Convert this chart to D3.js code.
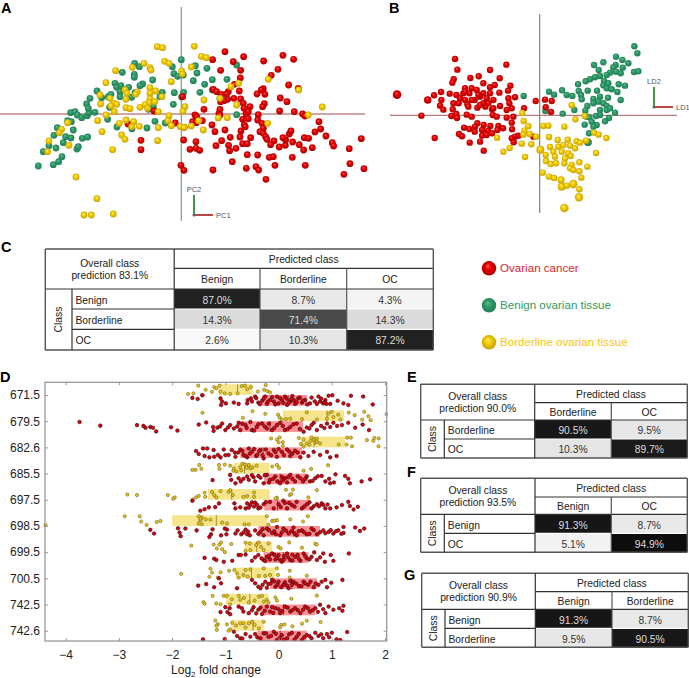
<!DOCTYPE html>
<html>
<head>
<meta charset="utf-8">
<script src="https://cdn.jsdelivr.net/npm/d3@7"></script>
<style>
  body { margin: 0; background: #fff; }
  text { font-family: "Liberation Sans", Arial, sans-serif; }
</style>
</head>
<body>
<script>
// PCA scores [PC1, PC2], panel A
const pcaBenign = [[-42.9,-15.6],[-38.4,-15.2],[-36.8,-14.3],[-35.8,-12.8],[-41.4,-11.3],[-37.6,-10.2],[-31.3,-10.5],[-30.9,-9.8],[-35.4,-8.6],[-34.7,-6.8],[-33.1,-7.2],[-38.2,-6.4],[-39.7,-9.5],[-29.7,-7.3],[-28.1,-6.9],[-32.4,-4.8],[-37.2,-4.1],[-34.1,-2],[-33,-2.3],[-33.2,.4],[-31.9,.7],[-31.2,-.3],[-29.9,-1.1],[-28.2,-.5],[-25.9,.5],[-27.7,.4],[-28.4,3],[-27.4,4.7],[-27.9,1.7],[-25.3,6.9],[-23.9,4.9],[-21.9,5.2],[-21.1,5.9],[-19.9,9.2],[-19.4,8],[-18.1,8.5],[-15.8,8],[-18.4,6.7],[-18.4,5.2],[-14.9,5],[-13.9,6.4],[-11.6,9],[-12.4,8.5],[-14.1,11.9],[-14.1,11],[-17.7,12.5],[-14,15.2],[-12.6,14.2],[-8.6,10.2],[-5.7,6.5],[-6.4,5.2],[-2.1,6.4],[.7,6.5],[-2.4,2.9],[.1,5.1],[-21.5,2],[-9.9,1.4],[-8.4,2.2],[-22.1,-1.6],[-19.3,-3.9],[-14.8,-4.4],[-10.3,-4.2],[-7.9,-2.2],[-4.8,-2.7],[0,16.3],[-2.7,14.2],[-2.2,12.1],[-1.1,11.3],[3.6,10],[4.7,12.3],[7.7,13.7],[4.2,14.5],[7,8.9],[9.3,10.3],[13.7,10.4],[5.6,6.5],[9.3,7.2],[16.6,14.7],[11.6,4.7],[16.6,-.2],[.6,11.7]];
const pcaCancer = [[13.1,18.7],[18.7,17.2],[9.4,16.3],[15.6,15.7],[24.7,15.9],[30.5,17.6],[33.7,16.4],[11.8,13.1],[17.8,13.1],[29,13.4],[27,11.6],[17.7,10.8],[9.6,7.4],[15.9,8.9],[32.2,8.7],[35.1,7.7],[24.6,7.6],[24,7.2],[22.7,6],[25.1,5.9],[17.4,6.9],[14.1,6.7],[13.6,6],[10.6,6.7],[12.1,5.9],[13.9,4.4],[12.8,4],[11.8,3.7],[15.8,4.7],[17.8,4.5],[18.6,3.2],[18.8,1.7],[20.6,2.2],[29.7,4.8],[31.7,3.7],[24.9,3.1],[24.4,2.2],[6.8,1.4],[11.6,1.4],[11.3,.2],[11.6,-.3],[19.4,.2],[20.1,.7],[19.6,-1],[18.4,-1.6],[20.1,-1.4],[29.5,.9],[33.9,.7],[36.4,0],[37.1,-.6],[23.1,-.2],[22.9,-1.8],[41.3,-2.3],[41.8,-4.5],[40.1,-5.4],[43.4,-6.6],[54,-7.4],[45.3,-8.6],[45.7,-9.6],[50.4,-10.4],[50.6,-14.9],[54.8,-16.4],[48.8,-18.1],[4.1,-.3],[4.6,-.8],[3.4,-2.3],[6.3,-2],[4.5,-2.6],[-1.8,-2.7],[.9,-4],[9.2,-3.3],[18.9,-3.3],[19.2,-3.8],[24.2,-2.8],[24.6,-4.3],[23.6,-5.3],[10.1,-5.3],[13.1,-4.8],[17.9,-5.1],[20.8,-7.1],[24.6,-5.8],[25.3,-6.8],[25.7,-7.6],[14.7,-7],[17.6,-6.9],[12.1,-8],[10.4,-9.5],[.7,-7.8],[4.4,-8.3],[2.6,-10.6],[4.4,-10.3],[5.5,-10.9],[-12.1,-7.9],[-12.1,-10.7],[14.2,-9.4],[14.5,-11],[16.4,-10.3],[18.4,-8.9],[19.8,-8.9],[27.8,-8.1],[26.8,-9.2],[29.4,-9.9],[31.2,-9.4],[31.3,-7.8],[30.5,-7.1],[32.4,-6],[32.9,-5.1],[33.4,-8.4],[35.4,-9.2],[36.9,-7.1],[38.2,-7.3],[36.7,-10.8],[39.3,-10.1],[19.8,-12.2],[22.9,-12.3],[26.4,-13],[27.6,-12.8],[33.3,-13],[15.3,-14.3],[19.5,-16.3],[22.4,-15.8],[23.2,-16.8],[28.1,-15.4],[37.2,-15.4],[25.4,-19.6],[9.5,-16.8],[-.1,-15.4],[.8,-16.9],[-8.2,.9],[-16,-3],[.4,5.2]];
const pcaBorderline = [[-7.2,20.2],[-5.6,19.9],[3.9,20.3],[6,17.3],[7.5,16.9],[-5,15.8],[-3.7,15.2],[-14.7,14],[-11.2,15.2],[-9.4,13.9],[-9.1,13.2],[-19.7,13],[-22.6,9.4],[3,14.1],[.1,12.9],[.3,12],[-3,9.7],[-9.4,7.9],[-7.7,6.9],[-9.4,6.2],[-16.9,7.2],[-16.3,6.2],[-13.2,6.6],[-13.7,5.9],[-16.6,4.4],[-24.4,5.7],[-21.4,4.7],[-9.4,4.5],[-9.7,3.4],[-8,3.7],[-5.8,5.2],[-20.2,3.2],[-19.4,2.9],[-24.2,3],[-21.1,2.4],[-16.6,1.9],[-15.4,1.6],[-12.4,2],[-10.9,2.8],[-10.1,1.7],[-20.1,.7],[-6.9,.7],[1.1,2.2],[.5,.8],[6.8,4.2],[11.6,4.7],[16.6,2.7],[14.9,8.2],[17.2,9.2],[26.1,10.4],[35.2,7.2],[42.3,2.1],[38.1,-.3],[11.1,-1.2],[13.8,-1.1],[25.9,-2.8],[-3.7,-.5],[-4,-2],[-22.6,-.3],[-25.1,-2],[-18.6,-2.8],[-16.6,-1.8],[-14.3,-2.3],[-12.6,-3.7],[-14.9,-3.8],[-6.9,-4.1],[-3,-3.5],[-.3,-3.8],[.9,-4],[3,-3.6],[6.6,-4.8],[5.2,-2],[-23.8,-5.3],[-17.9,-6.3],[-16.9,-7.6],[-20.6,-10.7],[-7.1,-8],[-35.9,-4.6],[-36.6,-5.6],[-34.1,-2.6],[-39.7,-8.1],[-40.1,-11.3],[-33.7,-9.4],[-31.6,-18.9],[-25.3,-25.4],[-29.2,-30.3],[-27,-30.3],[-20.4,-30]];

// LDA scores [LD1, LD2, depth], panel B
const ldaCancer = [[-25.4,16.9],[-10,15.2],[-24.7,13.7],[-14.9,13.6],[-18.3,11.7],[-20.8,11.2],[-12,11.1],[-25.8,10.8],[-26.2,9.8],[-16.9,9.6],[-13.5,9.1],[-8.8,8.9],[-22.4,8.1],[-20.4,8.1],[-14.9,8.4],[-9.5,7.4],[-29.6,7],[-31.7,6],[-42.8,6.2,1],[-33.6,4.6,.5],[-27,6.5],[-25,6.1],[-22.9,6.6],[-21.1,6.6],[-18.9,7.6],[-16.9,6.6],[-14.9,6.6],[-12.1,6.8],[-29.5,4.6],[-23.9,5.1],[-25.9,3.6],[-24.3,3.6],[-21.7,3.3],[-19.5,4.6],[-17.9,5.6],[-15.9,5.1],[-13.9,4.6],[-9.4,5.1],[-7.4,5.4],[-9.1,3.6],[-29.9,2.9],[-28.9,1.7],[-26.1,1.8],[-21.4,2.6],[-18.7,2.3],[-16.3,2.6],[-14.3,1.8],[-11.9,2.8],[-9.9,1.6],[-8.4,2.1],[-4.7,2.1],[-1.2,4.3],[1.6,4.7],[3.6,4.3],[1.8,2.4],[3.4,1],[-35.5,-.1],[-26.5,-.2],[-25,.4],[-24.8,-.8],[-21.9,.2],[-20.4,-.4],[-14.1,.1],[-12.9,-.4],[-9.9,-.7],[-7.9,-.4],[-18.7,-2.4],[-19.4,-3.4],[-16.8,-2.9],[-14.8,-3.2],[-12.4,-3.2],[-12.7,-4.4],[-11,-3.9],[-22.7,-3.7],[-21.1,-4.1],[-19.5,-4.9],[-17.3,-4.4],[-15.5,-4.6],[-8.4,-2.2],[-8.3,-4.2],[-31.5,-6.8],[-24.2,-5.6],[-23.3,-6.3],[-17.3,-6.1],[-15.9,-5.9],[-21,-8.2],[-17.9,-7.9],[-14.3,-5.4],[-6.4,-6.1],[-7.4,-6.4],[-8.4,-6.9],[-7.8,-8.1],[-16.8,-10.6],[-1.9,-6.4],[-22.4,7.1],[-18.4,6.1],[-20.4,4.6],[-16.9,3.6],[-13.9,2.1],[-17.9,3.1],[-22.4,4.6],[-15.4,3.6]];
const ldaBenign = [[28.4,20.7],[29.3,18.6],[22.9,17.6],[24.8,16.6],[26.6,15.6],[19.1,15.9],[16.3,15.1],[17.7,13.6],[28.3,13],[29.6,13.2],[24.9,14.3],[22.8,15.1],[22.1,14.4],[21.1,12.8],[22.9,13.1],[24.3,12.6],[20.1,12.1],[18.1,11.8],[16.6,11.4],[15.1,10.8],[13.8,10.2],[11.5,9.3],[19.3,10.3],[20.6,9.6],[25.6,8.9],[23.7,9.3],[19.1,9],[20.1,8.1],[21.6,7.8],[23.3,7],[17.2,7.4],[14.4,7.4],[11.7,7.3],[6.7,7.5],[2.8,7.1],[4.3,6.2],[8.1,6.1],[9.8,5.8],[12.4,6.1],[12.6,4.8],[16.1,4.9],[18.1,5.6],[20.5,5.3],[24.3,4.6],[16.1,3.6],[17.6,4.1],[19.1,3.6],[20.1,2.8],[14.3,2.8],[13.7,1.4],[10.4,1.6],[-4.8,5.8],[1.7,1.3],[6.9,.5],[18.1,1.6],[20.1,1.6],[22.6,.8],[21.1,2.1],[14.1,-.4],[14.9,-.6],[20.8,-.8],[19.6,-1.8],[13.5,-2.8],[15.6,-1.9],[17.1,-2.9],[16.1,-3.4],[14.8,-5.4],[14.5,-8.1,.6],[18.1,.1],[16.9,-.2]];
const ldaBorderline = [[9.6,3],[-5.2,.7],[-4.8,-1.7],[-3.4,-3.3],[1.1,-3.2],[2.6,-3.1],[7.4,-3.4],[10.7,-1.2],[13.5,-.2],[-4.6,-4.6],[-4.9,-5.8],[-3,-5.6],[-1.1,-6.4],[-12.8,-6.7],[-5.4,-8.5],[-2.5,-8.7],[-9,-9.8],[-10.9,-10.9],[-4.4,-12.5],[.2,-10.3,.7],[2.8,-6.5],[3.1,-9.5],[5.4,-7.4],[8.4,-7.3],[11.1,-7.8],[12.1,-8.2],[13.9,-7.6],[16.3,-5.2],[17.7,-5.8],[20,-6.8],[16.9,-11.3],[5.6,-9.4],[7.1,-8.9],[9.1,-9.1],[10.6,-9.9],[4.1,-10.9],[6.6,-10.9],[8.6,-11.4],[9.3,-12.2],[1.8,-11.9],[4.6,-12.4],[7.6,-12.9],[1.9,-13.7],[3.3,-14.6],[4.9,-14.4],[7.4,-14.4],[9.6,-14.9],[11.9,-14.1],[9.1,-15.9],[10.1,-16.4],[11.9,-16.8],[14.3,-15.4],[.9,-17.2],[2.8,-18.4],[4.3,-18.8],[12.5,-18.7],[6.4,-19.4,.4],[10.1,-20.6,.9],[6.6,-21.4,.7],[8.1,-21.1],[11.9,-22.2],[11.8,-24.6,.9],[7.4,-27.8,1]];

const legendLabels = ['Ovarian cancer', 'Benign ovarian tissue', 'Borderline ovarian tissue'];

// confusion matrices
const classesC = ['Benign', 'Borderline', 'OC'];
const valuesC = [[87.0, 8.7, 4.3], [14.3, 71.4, 14.3], [2.6, 10.3, 87.2]];
const classesE = ['Borderline', 'OC'];
const valuesE = [[90.5, 9.5], [10.3, 89.7]];
const classesF = ['Benign', 'OC'];
const valuesF = [[91.3, 8.7], [5.1, 94.9]];
const classesG = ['Benign', 'Borderline'];
const valuesG = [[91.3, 8.7], [9.5, 90.5]];

// panel D: peptide masses, box [low, median, high] per group
const peptides = ['671.5', '679.5', '682.6', '685.5', '697.5', '698.5', '699.5', '700.5', '742.5', '742.6'];
const foldTicks = [-4, -3, -2, -1, 0, 1, 2];
const borderlineBoxes = [[-1.13,-.77,-.49],[.08,.91,1.23],[.42,.67,1.25],[-.84,-.64,-.17],[-1.33,-.88,-.17],[-2,-1.17,-.22],[-.64,-.41,-.12],[-.8,-.51,-.06],[-.99,-.54,-.19],[-.89,-.48,-.28]];
const cancerBoxes = [[-.31,.18,.54],[-.77,-.16,.46],[-.72,-.29,.44],[-.27,.03,.56],[-.27,-.02,.59],[-.38,.28,.78],[-.28,.09,.56],[-.16,.25,.72],[-.34,.09,.69],[-.4,.03,.53]];

// per peptide: [log2 fold change, jitter within the row]
const borderlineFold = [
  [[-1.51,-.36],[-1.7,-.04],[-1.6,-.06],[-1.44,0],[-1.37,-.2],[-1.25,-.12],[-1.21,-.3],[-1.11,-.36],[-1.17,-.26],[-1.09,-.13],[-1.01,-.06],[-.91,-.04],[-.77,-.06],[-.69,-.34],[-.63,-.36],[-.59,-.22],[-.52,-.3],[-.39,-.13],[-.27,-.2],[-.24,-.38],[-.21,-.15],[-.16,-.1]],
  [[-1.43,-.32],[-.67,-.13],[-.49,-.38],[-.25,-.28],[-.01,-.25],[.02,-.14],[.06,-.06],[.14,-.08],[.22,-.1],[.44,-.08],[.53,-.34],[.72,-.06],[.91,-.1],[.94,-.29],[1,-.36],[1.03,-.16],[1.12,-.25],[1.16,-.06],[1.32,-.33],[1.43,-.23],[1.57,-.06],[1.61,-.36],[1.69,-.19],[1.73,-.04],[2.03,-.27]],
  [[-.14,-.34],[-.03,-.3],[.02,-.38],[0,-.19],[.08,-.2],[.08,-.06],[.38,-.36],[.47,-.3],[.42,-.13],[.53,-.15],[.62,-.38],[.66,-.28],[.69,-.18],[.72,-.34],[.78,-.15],[.47,-.03],[1.13,-.11],[1.29,-.37],[1.36,-.37],[1.28,-.11],[1.38,-.04],[1.66,-.28],[1.78,-.25],[1.8,-.36],[1.88,-.34],[1.88,-.04],[.6,-.25],[.72,-.22],[.58,-.1]],
  [[-1.62,-.14],[-1.56,-.14],[-1.49,-.33],[-1.45,-.18],[-1.12,-.33],[-1.11,-.18],[-1.01,-.34],[-.91,-.3],[-.84,-.2],[-.79,-.08],[-.72,-.24],[-.68,-.37],[-.63,-.35],[-.56,-.33],[-.53,-.2],[-.49,-.24],[-.41,-.3],[-.12,-.27],[-.03,-.33],[.01,-.22],[.47,-.11],[.61,-.18],[.93,-.32],[-.85,-.11],[-.7,-.12],[-.6,-.22]],
  [[-2.84,-.2],[-2.66,-.18],[-2.08,-.18],[-1.95,-.09],[-1.98,-.04],[-1.5,-.15],[-1.55,-.09],[-1.61,-.01],[-1.39,-.27],[-1.38,-.11],[-1.25,-.3],[-1.21,-.18],[-1.17,-.09],[-1.09,-.33],[-.94,-.3],[-.91,-.37],[-.86,-.18],[-.66,-.11],[-.59,-.14],[-.46,-.28],[-.46,-.11],[.14,-.38],[.27,-.39],[.21,-.18],[.24,-.22],[-.03,-.08],[-.06,-.05],[.56,-.09],[.72,-.37]],
  [[-4.38,-.03],[-2.89,-.37],[-2.61,-.37],[-2.58,-.17],[-2.48,-.04],[-2.29,-.15],[-2.22,-.19],[-1.5,-.37],[-1.44,-.32],[-1.47,-.22],[-1.5,-.09],[-1.44,-.06],[-1.37,-.25],[-1.28,-.24],[-1.06,-.13],[-.97,-.09],[-.64,-.06],[-.56,-.06],[-.22,-.37],[-.19,-.05],[-.12,-.19],[-.08,-.2],[-.03,-.22],[.22,-.25],[.46,-.17],[.55,-.37],[-1.47,-.28]],
  [[-1.64,-.25],[-1.22,-.29],[-1.11,-.29],[-1.08,-.37],[-1.16,-.14],[-1.06,-.11],[-1.01,0],[-.89,-.31],[-.62,-.36],[-.54,-.33],[-.62,-.05],[-.53,-.08],[-.42,-.27],[-.37,-.37],[-.33,-.2],[-.28,-.08],[-.19,-.33],[0,-.2],[.04,-.14],[.2,-.37],[.44,-.17],[.69,-.32],[.72,-.29]],
  [[-1.83,-.17],[-1.28,-.37],[-1.25,-.22],[-1.3,-.06],[-1.09,-.23],[-1.14,-.03],[-.93,-.29],[-.83,-.32],[-.78,-.19],[-.75,-.03],[-.62,-.32],[-.53,-.34],[-.66,-.13],[-.58,-.06],[-.37,-.09],[-.28,-.38],[-.25,-.09],[-.16,-.13],[-.03,-.38],[-.01,-.13],[.21,-.29],[.21,-.03],[.53,-.1]],
  [[-1.24,-.33],[-1.41,-.09],[-1.39,-.03],[-1.17,-.04],[-1.09,-.01],[-1.03,-.33],[-.97,-.33],[-.91,-.01],[-.88,-.2],[-.75,-.33],[-.72,-.18],[-.56,-.08],[-.37,-.3],[-.31,-.33],[-.28,-.11],[-.22,-.18],[-.19,-.08],[-.06,-.27],[-.03,-.15],[.24,-.22],[.72,-.34],[-.65,-.25],[-.45,-.15]],
  [[-1.19,-.39],[-1.14,-.25],[-1.17,-.19],[-1.16,-.03],[-.97,-.24],[-.87,-.3],[-.91,-.05],[-.94,0],[-.72,-.28],[-.66,-.28],[-.56,-.28],[-.5,-.34],[-.37,-.09],[-.28,-.34],[.05,-.22],[.11,-.24],[.03,-.13],[.26,-.17],[.44,-.27],[.53,-.38],[.79,-.33],[-.8,-.2],[-.62,-.12],[-.45,-.22]]
];
const cancerFold = [
  [[-1.62,.11],[-1.52,.15],[-1.43,.01],[-1.09,.13],[-1.06,.25],[-1.08,.38],[-.99,.32],[-.84,.29],[-.75,.34],[-.58,.19],[-.59,.32],[-.52,.13],[-.44,.06],[-.38,.29],[-.31,.22],[-.25,.06],[-.22,.34],[-.16,.19],[-.09,.25],[-.03,.06],[0,.32],[.06,.19],[.12,.06],[.16,.38],[.22,.25],[.26,.04],[.31,.34],[.37,.13],[.44,.29],[.5,.19],[.59,.32],[.75,.06],[.78,.25],[.84,.32],[.94,.03],[1.01,.01],[.88,.19],[.97,.34],[1.11,.22],[1.22,.32],[1.31,.38],[1.36,.03],[1.59,.06],[1.77,.36],[-.5,.25],[-.42,.12],[-.35,.35],[-.28,.14],[-.2,.25],[-.12,.08],[-.06,.36],[.03,.12],[.09,.3],[.15,.14],[.19,.3],[.24,.16],[.29,.2],[.34,.28],[.4,.1],[.46,.22],[.54,.36],[.62,.1],[.68,.24],[.72,.34],[.8,.14],[.86,.28],[.9,.34]],
  [[-3.74,.03],[-3.35,.17],[-2.66,.15],[-2.54,.18],[-2.5,.25],[-2.41,.22],[-2.36,.25],[-2.3,.39],[-2.02,.23],[-1.9,.36],[-1.5,.13],[-1.36,.05],[-1.22,.37],[-1.23,.22],[-1.15,.25],[-1.06,.09],[-1,.34],[-.91,.15],[-.84,.28],[-.75,.06],[-.72,.34],[-.62,.15],[-.53,.03],[-.5,.34],[-.41,.22],[-.31,.09],[-.22,.28],[-.12,.34],[-.03,.15],[.03,.06],[.12,.34],[.22,.22],[.34,.09],[.47,.4],[.53,.24],[.62,.15],[.72,.34],[.91,.09],[.97,.22],[1.03,.06],[1.19,.15],[1.31,.06],[1.44,.25],[1.58,.13],[1.7,.34],[-.68,.1],[-.6,.26],[-.46,.36],[-.38,.12],[-.26,.2],[-.18,.1],[-.08,.26],[.08,.18],[.17,.3],[.28,.12],[.4,.3],[.58,.28],[.66,.06],[-1.1,.2],[-.95,.24],[-.78,.2],[.8,.18],[.86,.26],[1.1,.18]],
  [[-1.55,.14],[-1.5,.25],[-1.42,.04],[-1.34,.04],[-1.39,.33],[-1.3,.38],[-1.22,.1],[-1.21,.36],[-1.14,.29],[-1.03,.08],[-1.09,.38],[-.94,.29],[-.88,.1],[-.81,.36],[-.72,.08],[-.66,.29],[-.56,.04],[-.59,.38],[-.5,.17],[-.42,.33],[-.34,.1],[-.28,.42],[-.19,.23],[-.09,.1],[-.03,.36],[.06,.17],[.16,.08],[.22,.33],[.31,.13],[.41,.38],[.47,.2],[.56,.33],[.66,.17],[.78,.29],[.91,.17],[.97,.38],[1.09,.33],[-.76,.2],[-.68,.14],[-.62,.32],[-.54,.24],[-.46,.06],[-.4,.28],[-.36,.15],[-.3,.3],[-.24,.08],[-.14,.3],[-.06,.18],[0,.06],[.1,.3],[.2,.16],[.26,.24],[.36,.2],[-1,.3],[-.82,.2]],
  [[-1.24,.25],[-.91,.05],[-.89,.24],[-.81,.37],[-.75,.18],[-.71,.3],[-.59,.11],[-.56,.24],[-.47,.14],[-.38,.09],[-.28,.37],[-.22,.05],[-.16,.24],[-.06,.11],[.03,.37],[.12,.18],[.22,.05],[.31,.3],[.41,.18],[.53,.11],[.59,.3],[.69,.18],[.81,.09],[.95,.2],[.97,.37],[1.04,.34],[1.07,.03],[1.25,.09],[1.31,.2],[1.34,.37],[1.56,.3],[1.72,.22],[-.44,.3],[-.34,.16],[-.26,.06],[-.18,.34],[-.1,.2],[-.02,.3],[.06,.12],[.08,.26],[.16,.34],[.26,.2],[.18,.14],[.36,.1],[.46,.3],[.5,.2],[.64,.28],[.74,.1],[.88,.3],[-.66,.2],[-.5,.06]],
  [[-1.62,.04],[-1.47,.42],[-1.39,.36],[-1.31,.29],[-1.19,.28],[-1.12,.14],[-.83,.14],[-.81,.33],[-.72,.29],[-.59,.14],[-.62,.33],[-.53,.2],[-.44,.11],[-.38,.33],[-.28,.17],[-.16,.08],[-.09,.33],[0,.17],[.09,.04],[.16,.33],[.25,.2],[.34,.08],[.44,.33],[.53,.17],[.62,.33],[.72,.17],[.81,.14],[.88,.33],[.97,.33],[1.09,.29],[1.19,.2],[1.31,.08],[1.34,.24],[1.49,.27],[1.41,.37],[-.56,.3],[-.5,.1],[-.46,.26],[-.4,.2],[-.34,.3],[-.24,.1],[.04,.28],[.12,.12],[.2,.12],[.3,.26],[.48,.26],[.58,.1],[.66,.25],[.76,.25],[.84,.2],[.92,.18]],
  [[-2.41,.15],[-2.34,.29],[-1.89,.09],[-1.86,.25],[-1.84,.39],[-1.75,.1],[-1.54,.17],[-1.3,.42],[-1.27,.32],[-1.24,.13],[-1.08,.36],[-1.01,.1],[-.97,.14],[-.98,.32],[-.81,.29],[-.77,.17],[-.7,.32],[-.62,.14],[-.59,.32],[-.54,.36],[-.44,.17],[-.34,.23],[-.28,.36],[-.22,.1],[-.12,.27],[-.03,.04],[.03,.36],[.09,.1],[.19,.29],[.28,.06],[.34,.36],[.44,.17],[.53,.32],[.62,.1],[.72,.32],[.84,.17],[.94,.23],[1.03,.29],[1.12,.17],[1.22,.04],[1.22,.27],[1.44,.06],[1.53,.19],[1.61,.1],[-.66,.25],[-.57,.22],[-.38,.3],[-.3,.12],[-.18,.16],[-.08,.2],[-.05,.32],[.06,.25],[.14,.18],[.24,.2],[.3,.28],[.38,.2],[.48,.24],[.58,.3],[.66,.16],[.78,.24],[.88,.28],[.98,.16],[1.08,.2],[1.18,.3]],
  [[-1.39,.22],[-1.21,.25],[-1.17,.3],[-1.03,.37],[-.87,.33],[-.75,.11],[-.71,.11],[-.62,.09],[-.5,.33],[-.44,.2],[-.38,.11],[-.28,.3],[-.22,.18],[-.12,.05],[-.06,.28],[0,.11],[.06,.37],[.16,.05],[.22,.3],[.31,.18],[.41,.33],[.47,.05],[.53,.24],[.62,.18],[.67,.01],[.72,.3],[.84,.05],[.87,.37],[.98,.11],[1.03,.33],[1.32,.05],[-.32,.24],[-.25,.34],[-.18,.14],[-.16,.28],[-.08,.1],[-.03,.22],[.03,.3],[.1,.15],[.1,.28],[.18,.2],[.26,.1],[.26,.32],[.36,.1],[.38,.25],[.5,.15],[.58,.28],[.78,.2]],
  [[-1.51,.28],[-1.36,.22],[-1.21,.34],[-1.12,0],[-1.08,.19],[-.78,.38],[-.5,.06],[-.44,.19],[-.38,.32],[-.34,.38],[-.25,.13],[-.19,.22],[-.12,.06],[-.06,.32],[0,.13],[.09,.25],[.19,.38],[.28,.13],[.38,.29],[.47,.13],[.56,.25],[.66,.34],[.75,.25],[.81,.13],[.88,.06],[.91,.34],[.99,.17],[1.2,.06],[-.3,.25],[-.22,.36],[-.15,.2],[-.08,.12],[-.02,.25],[.05,.34],[.12,.15],[.16,.28],[.22,.1],[.25,.25],[.33,.2],[.43,.3],[.5,.2],[.6,.13],[.7,.2]],
  [[-1.09,.29],[-1,.1],[-.92,.14],[-.96,.29],[-.91,.37],[-.75,.08],[-.69,.14],[-.66,.27],[-.56,.33],[-.47,.1],[-.38,.2],[-.31,.36],[-.22,.08],[-.16,.27],[-.06,.14],[.03,.33],[.12,.08],[.22,.27],[.31,.14],[.41,.33],[.5,.08],[.59,.27],[.69,.14],[.78,.01],[.88,.33],[.94,.08],[1.03,.2],[1.14,.14],[1.22,.05],[1.2,.24],[-.5,.22],[-.42,.34],[-.34,.12],[-.26,.24],[-.12,.1],[-.1,.32],[0,.18],[.07,.25],[.17,.12],[.26,.22],[.36,.22],[.46,.2],[.55,.14],[.64,.22],[.74,.28],[.84,.18]],
  [[-1.42,.33],[-1.01,.32],[-.84,.04],[-.78,.2],[-.72,.29],[-.62,.13],[-.53,.23],[-.44,.13],[-.34,.29],[-.28,.1],[-.19,.23],[-.09,.04],[-.03,.36],[.06,.17],[.16,.29],[.25,.08],[.34,.23],[.44,.36],[.53,.17],[.62,.29],[.69,.08],[.75,.2],[.84,.29],[.91,.13],[1,.08],[1.09,.33],[1.16,.36],[1.29,.05],[-.68,.3],[-.4,.25],[-.24,.1],[-.14,.2],[-.05,.12],[.02,.28],[.1,.34],[.2,.14],[.3,.34],[.38,.12],[.48,.25],[.58,.2],[.8,.14],[.95,.25]]
];

const svg = d3.select("body").append("svg")
  .attr("width", 689)
  .attr("height", 678)
  .style("display", "block");

// sphere shading for the 3D scatter points
const defs = svg.append("defs");
function sphere(id, light, mid, dark) {
  const g = defs.append("radialGradient").attr("id", id)
    .attr("cx", "50%").attr("cy", "50%").attr("r", "55%")
    .attr("fx", "40%").attr("fy", "32%");
  g.append("stop").attr("offset", "0%").attr("stop-color", light);
  g.append("stop").attr("offset", "40%").attr("stop-color", mid);
  g.append("stop").attr("offset", "100%").attr("stop-color", dark);
}
sphere("red", "#ff5a5a", "#e60000", "#a80000");
sphere("green", "#5fbf92", "#2f9a68", "#1f7a52");
sphere("yellow", "#fff07a", "#f5cc00", "#c09e00");

// panel letters
const letters = [["A", 1, 13], ["B", 389, 13], ["C", 1, 252], ["D", 0, 382], ["E", 407, 382], ["F", 407, 477], ["G", 404, 580]];
svg.selectAll(".letter").data(letters).enter().append("text")
  .attr("class", "letter")
  .attr("x", d => d[1]).attr("y", d => d[2])
  .attr("font-size", 14.5).attr("font-weight", "bold")
  .text(d => d[0]);

function scatter(cfg) {
  const g = svg.append("g");
  const x = d3.scaleLinear().domain([0, 10]).range([cfg.cx, cfg.cx + 33.33]);
  const y = d3.scaleLinear().domain([0, 10]).range([cfg.cy, cfg.cy - 33.33]);
  const r = d3.scaleLinear().domain([0, 1]).range([cfg.r, cfg.r + 1.1]);

  g.append("line").attr("x1", cfg.hx[0]).attr("x2", cfg.hx[1]).attr("y1", cfg.cy).attr("y2", cfg.cy)
    .attr("stroke", cfg.hColor).attr("stroke-width", cfg.hWidth);
  g.append("line").attr("x1", cfg.cx).attr("x2", cfg.cx).attr("y1", cfg.vy[0]).attr("y2", cfg.vy[1])
    .attr("stroke", cfg.vColor).attr("stroke-width", 1.2);

  cfg.series.forEach(s => {
    g.selectAll(null).data(s.data).enter().append("circle")
      .attr("cx", d => x(d[0]))
      .attr("cy", d => y(d[1]))
      .attr("r", d => r(d[2] || 0))
      .attr("fill", `url(#${s.fill})`);
  });

  // small axis glyph
  const a = cfg.glyph;
  g.append("line").attr("x1", a.x).attr("x2", a.x).attr("y1", a.y).attr("y2", a.y - a.up)
    .attr("stroke", "#2e8b2e").attr("stroke-width", 1.8);
  g.append("line").attr("x1", a.x).attr("x2", a.x + a.right).attr("y1", a.y).attr("y2", a.y)
    .attr("stroke", "#b83030").attr("stroke-width", 1.8);
  g.append("circle").attr("cx", a.x).attr("cy", a.y).attr("r", 1.6).attr("fill", "#666");
  g.append("text").attr("x", a.x).attr("y", a.y - a.up - 3).attr("text-anchor", "middle")
    .attr("font-size", 7.5).attr("fill", "#555").text(cfg.names[1]);
  g.append("text").attr("x", a.x + a.right + 3).attr("y", a.y + 2.5)
    .attr("font-size", 7.5).attr("fill", "#555").text(cfg.names[0]);
}

scatter({
  cx: 181.3, cy: 114, r: 3.4,
  hx: [0, 365], vy: [7, 221],
  hColor: "#d3a4a4", hWidth: 1.8, vColor: "#7aa27a",
  glyph: { x: 194, y: 215, up: 20, right: 19 }, names: ["PC1", "PC2"],
  series: [{ data: pcaBenign, fill: "green" }, { data: pcaCancer, fill: "red" }, { data: pcaBorderline, fill: "yellow" }]
});
scatter({
  cx: 539.7, cy: 115.3, r: 3.2,
  hx: [390, 677], vy: [14, 213],
  hColor: "#a85a5a", hWidth: 1, vColor: "#6d8f6d",
  glyph: { x: 654, y: 107, up: 20, right: 19 }, names: ["LD1", "LD2"],
  series: [{ data: ldaBenign, fill: "green" }, { data: ldaCancer, fill: "red" }, { data: ldaBorderline, fill: "yellow" }]
});

// legend next to table C
const legendFill = ["red", "green", "yellow"];
const legendText = ["#d9232e", "#2f9a62", "#fbc500"];
const legend = svg.selectAll(".legend").data(legendLabels).enter().append("g")
  .attr("class", "legend")
  .attr("transform", (d, i) => `translate(489,${268.3 + i * 37})`);
legend.append("circle").attr("r", 7.2).attr("fill", (d, i) => `url(#${legendFill[i]})`);
legend.append("text").attr("x", 11).attr("y", 4).attr("font-size", 11.6)
  .attr("fill", (d, i) => legendText[i]).text(d => d);

// confusion matrix table
const gray = d3.scaleLinear().domain([0, 100]).range(["#ffffff", "#000000"]);
function drawTable(cfg) {
  const g = svg.append("g");
  const xs = cfg.xs, ys = cfg.ys;
  const fs = 10.3, ink = "#222", nudge = 1.2;
  const label = (x, y, t, anchor) => g.append("text").attr("x", x).attr("y", y)
    .attr("text-anchor", anchor || "middle").attr("dominant-baseline", "central")
    .attr("font-size", fs).attr("fill", ink).text(t);

  // value cells
  cfg.values.forEach((row, i) => row.forEach((v, j) => {
    g.append("rect").attr("x", xs[2 + j]).attr("y", ys[3 + i])
      .attr("width", xs[3 + j] - xs[2 + j]).attr("height", ys[4 + i] - ys[3 + i])
      .attr("fill", gray(v));
    g.append("text").attr("x", (xs[2 + j] + xs[3 + j]) / 2).attr("y", (ys[3 + i] + ys[4 + i]) / 2 + nudge)
      .attr("text-anchor", "middle").attr("dominant-baseline", "central")
      .attr("font-size", fs).attr("fill", v > 50 ? "#ddd" : "#333").text(v.toFixed(1) + "%");
  }));

  const right = xs[xs.length - 1], bottom = ys[ys.length - 1];
  const hline = (x1, x2, y, c, w) => g.append("line").attr("x1", x1).attr("x2", x2).attr("y1", y).attr("y2", y).attr("stroke", c).attr("stroke-width", w);
  const vline = (x, y1, y2, c, w) => g.append("line").attr("x1", x).attr("x2", x).attr("y1", y1).attr("y2", y2).attr("stroke", c).attr("stroke-width", w);

  // white separators between value rows, dark everywhere else
  for (let i = 4; i < ys.length - 1; i++) {
    hline(xs[2], right, ys[i], "#fff", 1.2);
    hline(xs[1], xs[2], ys[i], "#333", 1.2);
  }
  hline(xs[2], right, ys[1], "#333", 1.2);
  hline(xs[0], right, ys[3], "#333", 1.2);
  hline(xs[0], right, ys[0], "#555", 1.4);
  hline(xs[0], right, bottom, "#555", 1.6);
  vline(xs[0], ys[0], bottom, "#555", 1.4);
  vline(xs[1], ys[3], bottom, "#333", 1.2);
  vline(xs[2], ys[0], bottom, "#333", 1.2);
  for (let j = 3; j < xs.length - 1; j++) vline(xs[j], ys[1], bottom, "#555", 1.2);
  vline(right, ys[0], bottom, "#555", 1.4);

  const midHead = (xs[0] + xs[2]) / 2, midY = (ys[0] + ys[3]) / 2;
  label(midHead, midY - 6, "Overall class");
  label(midHead, midY + 6, "prediction " + cfg.overall);
  label((xs[2] + right) / 2, (ys[0] + ys[1]) / 2 + nudge, "Predicted class");
  cfg.classes.forEach((c, j) => label((xs[2 + j] + xs[3 + j]) / 2, (ys[1] + ys[3]) / 2 + nudge, c));
  cfg.classes.forEach((c, i) => label(xs[1] + 3.5, (ys[3 + i] + ys[4 + i]) / 2 + nudge, c, "start"));
  const cx = (xs[0] + xs[1]) / 2, cy = (ys[3] + bottom) / 2;
  g.append("text").attr("transform", `translate(${cx},${cy}) rotate(-90)`)
    .attr("text-anchor", "middle").attr("dominant-baseline", "central")
    .attr("font-size", fs).attr("fill", ink).text("Class");
}

drawTable({ overall: "83.1%", classes: classesC, values: valuesC,
  xs: [45.3, 72, 174.2, 260, 346.7, 433.3], ys: [249, 268.3, 289, 289, 309, 329.3, 350] });
drawTable({ overall: "90.0%", classes: classesE, values: valuesE,
  xs: [420.7, 444.3, 534.7, 611.3, 687.3], ys: [384.3, 402.7, 420, 420, 439, 458] });
drawTable({ overall: "93.5%", classes: classesF, values: valuesF,
  xs: [420.7, 444.3, 535, 611.3, 687.3], ys: [478.3, 497, 514.3, 514.3, 533.3, 552.3] });
drawTable({ overall: "90.9%", classes: classesG, values: valuesG,
  xs: [421.7, 445, 535.3, 612, 688.3], ys: [573.3, 591.7, 609.3, 609.3, 628.3, 647.3] });

// panel D: strip chart of fold changes
const plot = { left: 45, right: 386.7, top: 382.3, bottom: 641 };
const x = d3.scaleLinear().domain([-4, 2]).range([65.7, 385]);
const y = d3.scaleLinear().domain([0, peptides.length - 1]).range([395, 630.7]);

svg.append("clipPath").attr("id", "plotClip").append("rect")
  .attr("x", plot.left - 2).attr("y", plot.top)
  .attr("width", plot.right - plot.left + 3).attr("height", plot.bottom - plot.top);

const strip = svg.append("g").attr("clip-path", "url(#plotClip)");
const boxHeight = 0.41;

function boxes(data, top, fill, medianColor) {
  strip.selectAll(null).data(data).enter().append("rect")
    .attr("x", d => x(d[0]))
    .attr("width", d => x(d[2]) - x(d[0]))
    .attr("y", (d, i) => y(i + top))
    .attr("height", y(boxHeight) - y(0))
    .attr("fill", fill);
  strip.selectAll(null).data(data).enter().append("line")
    .attr("x1", d => x(d[1])).attr("x2", d => x(d[1]))
    .attr("y1", (d, i) => y(i + top))
    .attr("y2", (d, i) => y(i + top + boxHeight))
    .attr("stroke", medianColor).attr("stroke-width", 0.8);
}
boxes(borderlineBoxes, -boxHeight, "#f6e58c", "#8a7a20");
boxes(cancerBoxes, 0, "#fb9096", "#8a2020");

function points(rows, fill, stroke, r) {
  rows.forEach((row, i) => {
    strip.selectAll(null).data(row).enter().append("circle")
      .attr("cx", d => x(d[0]))
      .attr("cy", d => y(i + d[1]))
      .attr("r", r)
      .attr("fill", fill)
      .attr("stroke", stroke)
      .attr("stroke-width", 0.6);
  });
}
points(borderlineFold, "#efc800", "#6b6030", 1.6);
points(cancerFold, "#e3000f", "#2c0505", 1.8);

// axes, mirrored on top and right
const axisColor = "#999";
const yAxisScale = d3.scalePoint().domain(peptides).range([y(0), y(peptides.length - 1)]);
const axes = [
  svg.append("g").attr("transform", `translate(${plot.left},0)`).call(d3.axisLeft(yAxisScale).tickSize(-3).tickPadding(5)),
  svg.append("g").attr("transform", `translate(${plot.right},0)`).call(d3.axisRight(yAxisScale).tickSize(-3).tickFormat("")),
  svg.append("g").attr("transform", `translate(0,${plot.bottom})`).call(d3.axisBottom(x).tickValues(foldTicks).tickSize(-3).tickPadding(9).tickFormat(d => d < 0 ? "\u2212" + (-d) : d)),
  svg.append("g").attr("transform", `translate(0,${plot.top})`).call(d3.axisTop(x).tickValues(foldTicks).tickSize(-3).tickFormat(""))
];
axes.forEach(a => {
  a.selectAll(".domain").remove();
  a.selectAll(".tick line").attr("stroke", axisColor);
  a.selectAll("text").attr("font-size", 12).attr("font-family", '"Liberation Sans", Arial, sans-serif').attr("fill", "#222");
});
svg.append("rect")
  .attr("x", plot.left).attr("y", plot.top)
  .attr("width", plot.right - plot.left).attr("height", plot.bottom - plot.top)
  .attr("fill", "none").attr("stroke", axisColor).attr("stroke-width", 1.3);

const xTitle = svg.append("text").attr("x", 216).attr("y", 674)
  .attr("text-anchor", "middle").attr("font-size", 12).attr("fill", "#222");
xTitle.append("tspan").text("Log");
xTitle.append("tspan").attr("font-size", 8).attr("dy", 3).text("2");
xTitle.append("tspan").attr("dy", -3).text(" fold change");
</script>
</body>
</html>
